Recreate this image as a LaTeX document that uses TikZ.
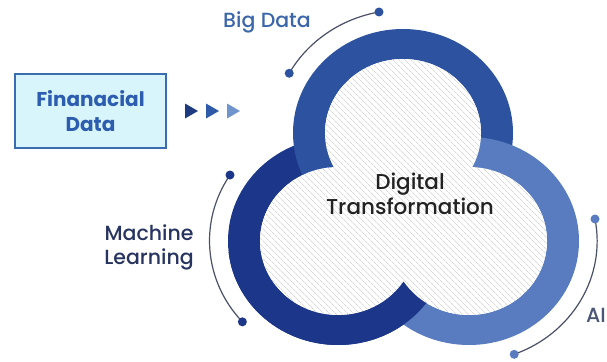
\documentclass[tikz,border=0pt]{standalone}
\usepackage{fontspec}
\setmainfont{Poppins}
\newfontfamily\medfont{Poppins Medium}
\usetikzlibrary{patterns.meta}

\definecolor{ringTop}{HTML}{2C52A0}
\definecolor{ringLeft}{HTML}{1C3689}
\definecolor{ringRight}{HTML}{587CBF}
\definecolor{boxFill}{HTML}{D9F5FC}
\definecolor{boxLine}{HTML}{3A6CB0}
\definecolor{boxText}{HTML}{2C5DAE}
\definecolor{hatchGray}{HTML}{D8D8D8}
\definecolor{arcGray}{HTML}{4A5068}
\definecolor{bigText}{HTML}{3C66AA}
\definecolor{mlText}{HTML}{27345F}
\definecolor{aiText}{HTML}{4A5674}
\definecolor{centerText}{HTML}{222222}
\definecolor{triA}{HTML}{1E3A80}
\definecolor{triB}{HTML}{2F5AA8}
\definecolor{triC}{HTML}{6F95CC}

\tikzset{
  annulus/.style={insert path={(#1) ellipse[x radius=110, y radius=104] (#1) ellipse[x radius=78, y radius=74]}},
  innerdisk/.style={insert path={(#1) ellipse[x radius=78, y radius=74]}},
  arcline/.style={draw=arcGray, line width=1.2pt},
  labeltext/.style={font=\medfont\fontsize{20.5}{24}\selectfont, inner sep=0pt, align=center},
  dotmark/.style={circle, inner sep=0pt, minimum size=9pt},
}

\begin{document}
\begin{tikzpicture}[x=1pt, y=-1pt]
\useasboundingbox (0,0) rectangle (607,361);
\fill[white] (0,0) rectangle (607,361);

% ring centres
\coordinate (topc) at (403,133);
\coordinate (leftc) at (338,241);
\coordinate (rightc) at (469,241);

% the three interwoven rings
\fill[ringLeft, even odd rule] [annulus=leftc];
\fill[ringTop, even odd rule] [annulus=topc];
\fill[ringRight, even odd rule] [annulus=rightc];
\begin{scope}
  \clip (200,252) rectangle (520,361);
  \fill[ringLeft, even odd rule] [annulus=leftc];
\end{scope}

% hatched core
\fill[white] [innerdisk=topc] [innerdisk=leftc] [innerdisk=rightc];
\fill[pattern={Lines[angle=-45, distance=4pt, line width=0.7pt]}, pattern color=hatchGray]
  [innerdisk=topc] [innerdisk=leftc] [innerdisk=rightc];

\node[labeltext, font=\medfont\fontsize{21.5}{25}\selectfont, text=centerText] (core) at (410,194) {Digital\\Transformation};

% input box and arrows
\node[draw=boxLine, line width=2.5pt, fill=boxFill, minimum width=151pt, minimum height=74pt,
      font=\bfseries\fontsize{20}{25}\selectfont, text=boxText, align=center] (fin) at (90.5,111) {Finanacial\\Data};
\fill[triA] (185,103.5) -- (198,111) -- (185,118.5) -- cycle;
\fill[triB] (206,103.5) -- (219,111) -- (206,118.5) -- cycle;
\fill[triC] (227,103.5) -- (240,111) -- (227,118.5) -- cycle;

% Big Data
\node[labeltext, text=bigText] (bigdata) at (267,22) {Big Data};
\coordinate (bdA) at (379,12);
\draw[arcline] (bdA) arc[start angle=-100.6, end angle=-151, x radius=130, y radius=123] coordinate (bdB);
\node[dotmark, fill=ringTop] at (bdA) {};
\node[dotmark, fill=ringTop] at (bdB) {};

% Machine Learning
\node[labeltext, text=mlText] (ml) at (149,247) {Machine\\Learning};
\coordinate (mlA) at (230,175);
\draw[arcline] (mlA) arc[start angle=-147.2, end angle=-221.9, x radius=128.5, y radius=121.4] coordinate (mlB);
\node[dotmark, fill=ringLeft] at (mlA) {};
\node[dotmark, fill=ringLeft] at (mlB) {};

% AI
\node[labeltext, text=aiText, anchor=west] (ai) at (586,315) {AI};
\coordinate (aiA) at (595,219);
\draw[arcline] (aiA) arc[start angle=-10.5, end angle=69.4, x radius=128, y radius=121] coordinate (aiB);
\node[dotmark, fill=ringRight] at (aiA) {};
\node[dotmark, fill=ringRight] at (aiB) {};
\end{tikzpicture}
\end{document}
